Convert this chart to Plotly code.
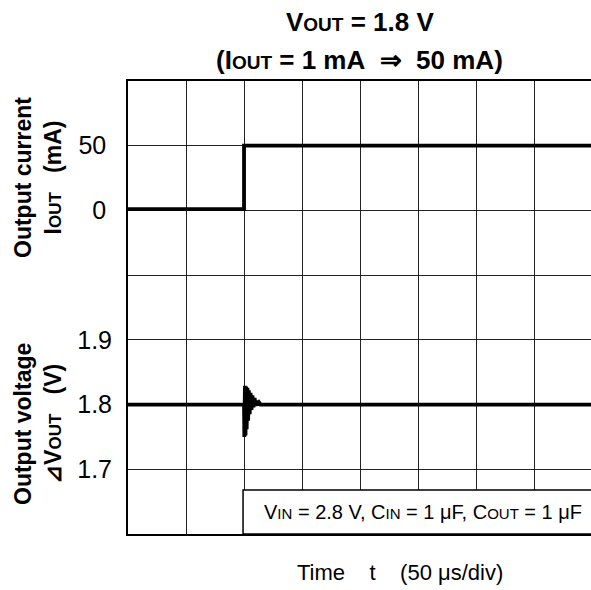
import plotly.graph_objects as go

# ---- data (time in divisions, 50 us/div) ----
t_current = [0.0, 2.0, 2.0, 7.98]
i_out_mA = [1, 1, 50, 50]

t_voltage = [0.0, 1.995, 2.000, 2.005, 2.015, 2.025, 2.035, 2.045, 2.058, 2.070,
             2.083, 2.097, 2.112, 2.128, 2.145, 2.163, 2.182, 2.200, 2.220,
             2.240, 2.262, 2.285, 7.98]
v_out = [1.800, 1.800, 1.800, 1.750, 1.829, 1.752, 1.828, 1.762, 1.826, 1.775,
         1.822, 1.785, 1.818, 1.792, 1.814, 1.796, 1.810, 1.798, 1.806,
         1.799, 1.803, 1.800, 1.800]

current_grid = [-250, -200, -150, -100, -50, 0, 50, 100]
current_ticklabels = ["", "", "", "", "", "0", "50", ""]
voltage_ticks = [1.7, 1.8, 1.9]
voltage_ticklabels = ["1.7", "1.8", "1.9"]
time_grid = [0, 1, 2, 3, 4, 5, 6, 7]

FONT = "Liberation Sans, Arial, sans-serif"
NB = "\u00a0"

def small(s, px):
    return f"<span style='font-size:{px}px'>{s}</span>"

fig = go.Figure()
fig.add_trace(go.Scatter(x=t_current, y=i_out_mA, mode="lines",
                         line=dict(color="black", width=3.8), yaxis="y",
                         showlegend=False, hoverinfo="skip"))
fig.add_trace(go.Scatter(x=t_voltage, y=v_out, mode="lines",
                         line=dict(color="black", width=3.8), yaxis="y2",
                         showlegend=False, hoverinfo="skip"))

fig.update_layout(
    width=591, height=590,
    margin=dict(l=128, r=0, t=81, b=56),
    paper_bgcolor="white", plot_bgcolor="white",
    font=dict(family=FONT, color="black"),
    xaxis=dict(range=[0, 7.98], tickvals=time_grid, showticklabels=False,
               showgrid=True, gridcolor="#222", gridwidth=1, zeroline=False,
               showline=True, linecolor="black", linewidth=1.5, mirror=True,
               ticks=""),
    yaxis=dict(range=[-250, 100], tickvals=current_grid, ticktext=current_ticklabels,
               showgrid=True, gridcolor="#222", gridwidth=1, zeroline=False,
               showline=True, linecolor="black", linewidth=1.5, ticks="",
               tickfont=dict(size=25, family=FONT), ticklabelstandoff=15),
    yaxis2=dict(range=[1.6, 2.3], tickvals=voltage_ticks, ticktext=voltage_ticklabels,
                overlaying="y", side="left", showgrid=False, zeroline=False,
                showline=False, ticks="",
                tickfont=dict(size=25, family=FONT), ticklabelstandoff=15),
)

# condition box
fig.add_shape(type="rect", xref="x", yref="y2", x0=1.983, x1=8.2, y0=1.6, y1=1.668,
              fillcolor="white", line=dict(color="black", width=1.5), layer="above")

H = 453.0
def py(px_y):
    return (534 - px_y) / H
def px(px_x):
    return (px_x - 128) / 463.0

ann = []
ann.append(dict(text="<b>V" + small("OUT", 19) + " = 1.8 V</b>", x=0.5, y=py(22),
                font=dict(size=26, family=FONT)))
ann.append(dict(text="<b>(I" + small("OUT", 19) + " = 1 mA" + NB + " ⇒ " + NB + "50 mA)</b>",
                x=0.5, y=py(60), font=dict(size=26, family=FONT)))
ann.append(dict(text="<b>Output current</b><br><b>I" + small("OUT", 17) + NB + NB + " (mA)</b>",
                x=px(38), y=py(178), textangle=-90, font=dict(size=23, family=FONT)))
ann.append(dict(text="<b>Output voltage</b><br><b>⊿V" + small("OUT", 17) + NB + NB + " (V)</b>",
                x=px(38), y=py(424), textangle=-90, font=dict(size=23, family=FONT)))
ann.append(dict(text="Time" + NB * 3 + " t" + NB * 3 + " (50 μs/div)", x=px(400), y=py(572),
                font=dict(size=22, family=FONT)))
ann.append(dict(text="V" + small("IN", 15) + " = 2.8 V, C" + small("IN", 15) + " = 1 μF, C"
                + small("OUT", 15) + " = 1 μF",
                x=px(423), y=py(512), font=dict(size=20, family=FONT)))

for a in ann:
    a.update(xref="paper", yref="paper", showarrow=False, xanchor="center", yanchor="middle")
fig.update_layout(annotations=ann)

fig.write_html("out.html", config={"displayModeBar": False},
               post_script="document.body.style.margin='0';document.body.style.overflow='hidden';")
